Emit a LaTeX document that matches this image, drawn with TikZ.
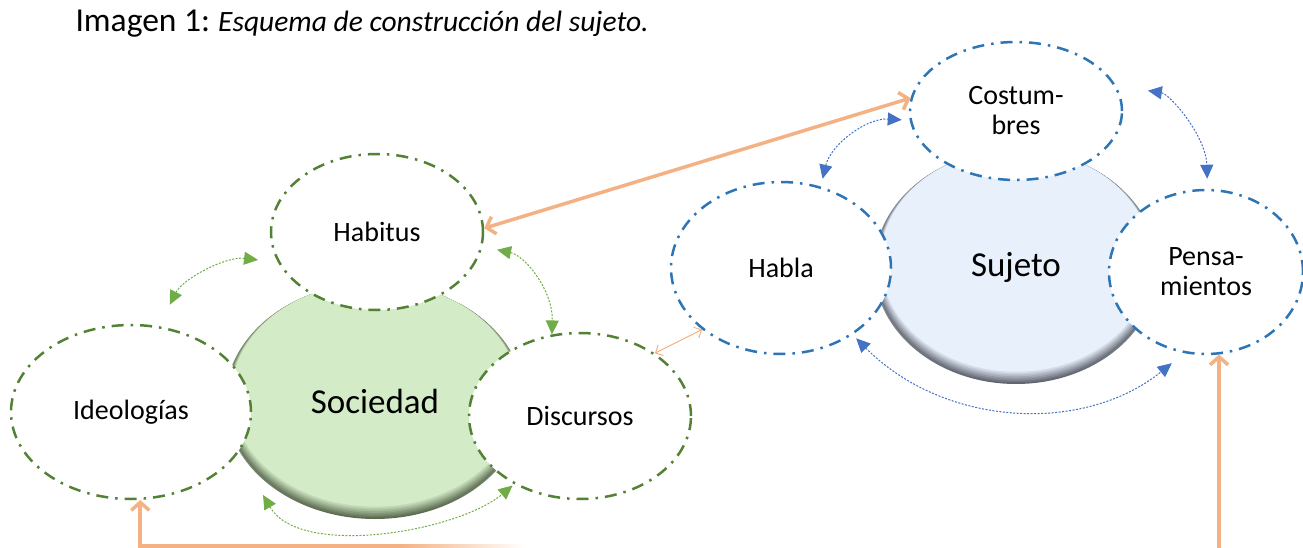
\documentclass[tikz,border=0pt]{standalone}
\usepackage{fontspec}
\setmainfont{Carlito}
\usepackage{tikz}
\usetikzlibrary{positioning, shapes.geometric, arrows.meta}

\definecolor{socline}{RGB}{84,130,53}
\definecolor{sujline}{RGB}{46,117,182}
\definecolor{socarr}{RGB}{112,173,71}
\definecolor{sujarr}{RGB}{68,114,196}
\definecolor{linkcol}{RGB}{244,177,131}
\definecolor{socfill}{RGB}{211,235,198}
\definecolor{socrimtop}{RGB}{225,240,218}
\definecolor{socrimbot}{RGB}{90,105,80}
\definecolor{sujfill}{RGB}{232,240,252}
\definecolor{sujrimtop}{RGB}{225,230,238}
\definecolor{sujrimbot}{RGB}{95,100,110}

\begin{document}
\begin{tikzpicture}[
          x=1pt, y=-1pt,
          every node/.style={font=\fontsize{28}{30}\selectfont, align=center},
          ring/.style={ellipse, draw, fill=white, line width=2.5pt, dash pattern=on 12pt off 7pt on 2.5pt off 7pt, inner sep=0pt},
          socring/.style={ring, draw=socline},
          sujring/.style={ring, draw=sujline},
          disc/.style={ellipse, inner sep=0pt, font=\fontsize{35}{40}\selectfont},
          bevel/.style n args={4}{path picture={
            \foreach \k [evaluate=\k as \p using int(\k*12.5)] in {1,...,8}
              \fill[#1!\p!#2] ([yshift=\k*0.8pt]path picture bounding box.center) ellipse [x radius=#3-\k*0.8pt, y radius=#4-\k*0.75pt];}},
          socdisc/.style={disc, top color=socrimtop, bottom color=socrimbot, minimum width=300pt, minimum height=236pt,
            bevel={socfill}{socrimbot}{150pt}{118pt}},
          sujdisc/.style={disc, top color=sujrimtop, bottom color=sujrimbot, minimum width=284pt, minimum height=234pt,
            bevel={sujfill}{sujrimbot}{142pt}{117pt}},
          sarrow/.style={{Triangle[length=14pt,width=13pt]}-{Triangle[length=14pt,width=13pt]}, socarr, line width=1pt, dash pattern=on 2pt off 1.5pt},
          jarrow/.style={{Triangle[length=14pt,width=13pt]}-{Triangle[length=14pt,width=13pt]}, sujarr, line width=1pt, dash pattern=on 2pt off 1.5pt},
          link/.style={{Straight Barb[length=8pt,width=18pt]}-{Straight Barb[length=8pt,width=18pt]}, linkcol, line width=3.5pt},
          thinlink/.style={{Straight Barb[length=6pt,width=12pt]}-{Straight Barb[length=6pt,width=12pt]}, linkcol, line width=1pt}
      ]
      \useasboundingbox (0,0) rectangle (1303,548);

      % Title
      \node[anchor=base west, font=\fontsize{33.5}{38}\selectfont] (title) at (72,32) {Imagen 1:\hspace{-2pt} {\fontsize{29.5}{34}\selectfont\itshape Esquema de construcción del sujeto.}};

      % Sociedad
      \node[socdisc, outer sep=12pt] (sociedad) at (375,401) {Sociedad};
      \node[socring, minimum width=212pt, minimum height=156pt] (habitus) at (377,232) {Habitus};
      \node[socring, minimum width=240pt, minimum height=174pt] (ideol) at (131,412) {Ideologías};
      \node[socring, minimum width=222pt, minimum height=166pt] (discursos) at (580,416) {Discursos};

      % Sujeto
      \node[sujdisc] (sujeto) at (1016,267) {Sujeto};
      \node[sujring, minimum width=212pt, minimum height=138pt] (costumbres) at (1016,111) {Costum-\\bres};
      \node[sujring, minimum width=220pt, minimum height=172pt] (habla) at (781,268) {Habla};
      \node[sujring, minimum width=194pt, minimum height=164pt] (pens) at (1206,272) {Pensa-\\mientos};

      \coordinate (pbot) at (0,548);
      \coordinate (ibot) at (400,546);

      % Arrows
      \draw[sarrow, shorten <=24pt, shorten >=20pt] (ideol.72) to[bend left=35] (habitus.197);
      \draw[sarrow, shorten <=15pt] (habitus.-8) to[bend left=40] (discursos.109);
      \draw[sarrow, shorten >=2pt] (sociedad.220) to[out=-60, in=-140, looseness=0.75] (discursos.226);
      \draw[jarrow, shorten <=8pt, shorten >=8pt] (habla.64) to[bend left=40] (costumbres.185);
      \draw[jarrow, shorten <=32pt, shorten >=10pt] (costumbres.14) to[bend left=40] (pens.89);
      \draw[jarrow, shorten <=5pt, shorten >=16pt] (habla.-43) to[bend right=42] (pens.255);

      \draw[link] (habitus.2) -- (costumbres.173);
      \draw[thinlink] (discursos.40) -- (habla.218);
      \draw[link, {-Straight Barb[length=8pt,width=18pt]}] (pens.-81 |- pbot) -- (pens.-81);
      \draw[link, {-Straight Barb[length=8pt,width=18pt]}] (ibot) -| (ideol.-84);
      \shade[left color=linkcol, right color=white] (400,544.25) rectangle (525,547.75);

      \end{tikzpicture}
\end{document}
